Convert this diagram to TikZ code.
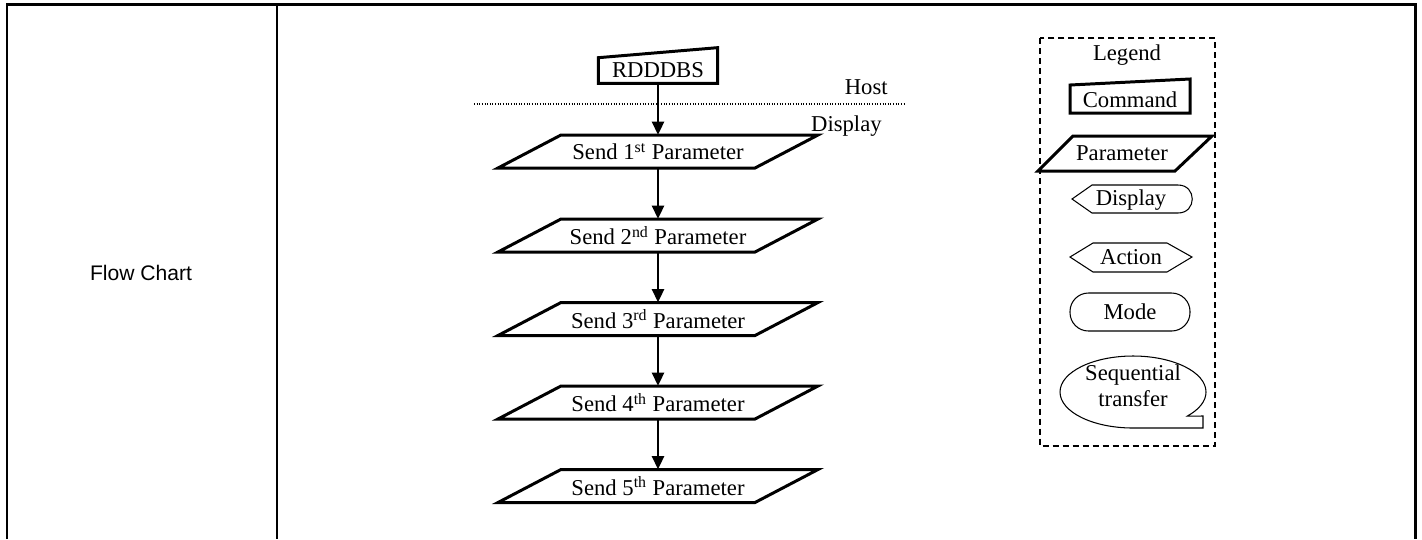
\documentclass[tikz,border=0pt]{standalone}
\usepackage{fontspec}
\setmainfont{Liberation Serif}
\newfontfamily\arialfont{Liberation Sans}
\usetikzlibrary{arrows.meta,calc}

\tikzset{
  bold/.style={line width=1.7pt, line join=miter},
  slim/.style={line width=0.6pt},
  arr/.style={line width=1.1pt, -{Triangle[length=7.5pt,width=7pt]}},
  lbl/.style={font=\fontsize{12.9}{14.7}\selectfont, inner sep=0pt}
}

\begin{document}
\begin{tikzpicture}[x=0.02cm, y=-0.02cm]
    \useasboundingbox (0,0) rectangle (1422,539);
    % table
    \draw[bold] (7,539) -- (7,4) -- (1415,4) -- (1415,539);
    \draw[bold] (277,4) -- (277,539);
    \node[font=\arialfont\fontsize{12}{14}\selectfont] (title) at (141,273) {Flow Chart};

    % host / display split
    \draw[line width=0.6pt, dash pattern=on 0.5pt off 1pt] (474,104) -- (904,104);
    \node[lbl, anchor=base east] (host) at (888,94) {Host};
    \node[lbl, anchor=base east] (disp) at (882,131) {Display};

    % command
    \node[lbl, minimum width=67.5pt, minimum height=14.2pt] (cmd) at (658,70.5) {RDDDBS};
    \draw[bold] (cmd.south west) -- (cmd.north west) -- ([yshift=5.7pt]cmd.north east) -- (cmd.south east) -- cycle;

    % parameters
    \foreach \i/\y/\ord in {1/151.5/st, 2/235.5/nd, 3/319/rd, 4/402.5/th, 5/486/th} {
      \node[lbl, minimum height=18.7pt] (p\i) at (658,\y) {Send \i\textsuperscript{\ord} Parameter};
      \draw[bold] ($(p\i)+(-97,-16.5)$) -- ($(p\i)+(160,-16.5)$) -- ($(p\i)+(97,16.5)$) -- ($(p\i)+(-160,16.5)$) -- cycle;
    }
    \draw[arr] (cmd) -- (p1);
    \foreach \i/\j in {1/2, 2/3, 3/4, 4/5} \draw[arr] (p\i) -- (p\j);

    % legend
    \draw[line width=0.9pt, dash pattern=on 3.4pt off 2.3pt] (1040,38) rectangle (1215,446);
    \node[lbl] (legend) at (1127,55) {Legend};
    \node[lbl] (lcmd) at (1130,100) {Command};
    \draw[bold] (1070,113) -- (1070,85) -- (1190,79) -- (1190,113) -- cycle;
    \node[lbl] (lpar) at (1122,153) {Parameter};
    \draw[bold] (1073,136) -- (1212,136) -- (1175,171) -- (1038,171) -- cycle;
    \node[lbl] (ldisp) at (1131,200) {Display};
    \draw[slim] (1072,199) -- (1092,185) -- (1178,185) .. controls (1197,185) and (1197,213) .. (1178,213) -- (1092,213) -- cycle;
    \node[lbl] (lact) at (1131,257) {Action};
    \draw[slim] (1070,257) -- (1093,243) -- (1167,243) -- (1192,257) -- (1167,272) -- (1093,272) -- cycle;
    \node[lbl] (lmode) at (1130,312) {Mode};
    \draw[slim, rounded corners=10.5pt] (1070,293) rectangle (1190,331);
    \node[lbl, align=center] (lseq) at (1133,386) {Sequential\\transfer};
    \draw[slim] (1133,428) arc[start angle=90, end angle=402, x radius=73, y radius=36] -- (1203,416) -- (1203,428) -- cycle;
\end{tikzpicture}
\end{document}
